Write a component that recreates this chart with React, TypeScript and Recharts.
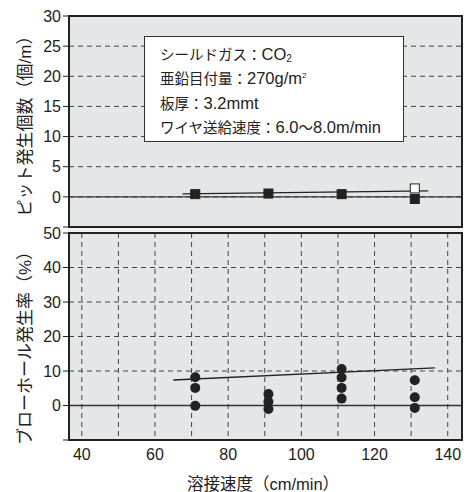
import { ComposedChart, Scatter, Line, XAxis, YAxis, CartesianGrid, ReferenceLine } from 'recharts'

// welding speed (cm/min)
const speedTicks = [40, 50, 60, 70, 80, 90, 100, 110, 120, 130, 140]
const speedLabels = [40, 60, 80, 100, 120, 140]
const pitTicks = [-5, 0, 5, 10, 15, 20, 25, 30]
const blowTicks = [-10, 0, 10, 20, 30, 40, 50]

// pits per metre
const pitFilled = [
  { x: 71, y: 0.45 },
  { x: 91, y: 0.55 },
  { x: 111, y: 0.45 },
  { x: 131, y: -0.35 },
]
const pitOpen = [{ x: 131, y: 1.4 }]
const pitTrend = [
  { x: 67.5, y: 0.5 },
  { x: 134.7, y: 1.0 },
]

// blowhole rate (%)
const blowholes = [
  { x: 71, y: 8.2 }, { x: 71, y: 5.1 }, { x: 71, y: -0.1 },
  { x: 91, y: 3.3 }, { x: 91, y: 1.1 }, { x: 91, y: -1.0 },
  { x: 111, y: 10.6 }, { x: 111, y: 8.1 }, { x: 111, y: 5.1 }, { x: 111, y: 2.0 },
  { x: 131, y: 7.3 }, { x: 131, y: 2.4 }, { x: 131, y: -0.7 },
]
const blowTrend = [
  { x: 65, y: 7.4 },
  { x: 136.5, y: 10.9 },
]

const conditions = ['シールドガス', '亜鉛目付量', '板厚', 'ワイヤ送給速度']

const INK = '#222'
const PLOT_BG = '#e5e6e8'
const xDomain: [number, number] = [36.5, 143.9]
const tickStyle = { fill: INK, fontSize: 16 }

const square = (fill: string) => (p: any) => (
  <rect x={p.cx - 4.5} y={p.cy - 4.5} width={9} height={9} fill={fill} stroke={INK} strokeWidth={1} />
)
const dot = (p: any) => <circle cx={p.cx} cy={p.cy} r={5} fill={INK} />

function Grid() {
  return <CartesianGrid fill={PLOT_BG} stroke="#444" strokeDasharray="5 4" />
}

const Lat = ({ children }: { children: any }) => <span style={{ fontSize: 16.5 }}>{children}</span>
const Small = ({ children, up }: { children: any; up: number }) => (
  <span style={{ fontSize: up > 0 ? 8 : 10, position: 'relative', top: -up, lineHeight: 0 }}>{children}</span>
)

function Row({ i, children }: { i: number; children: any }) {
  // rows are centred 24.5px apart
  return (
    <div style={{ position: 'absolute', left: 15, top: 4.5 + i * 24.5, height: 24.5, lineHeight: '24.5px', whiteSpace: 'nowrap' }}>
      {children}
    </div>
  )
}

export default function App() {
  return (
    <div
      style={{
        position: 'absolute', left: 0, top: 0, width: 475, height: 492,
        fontFamily: '"Liberation Sans", Arial, "Noto Sans CJK JP", sans-serif',
        color: INK, background: '#fff',
      }}
    >
      <div style={{ position: 'absolute', left: 0, top: 0 }}>
        <ComposedChart width={475} height={228} margin={{ top: 16, right: 13, left: 0, bottom: 0 }}>
          <Grid />
          <XAxis dataKey="x" type="number" domain={xDomain} ticks={speedTicks} allowDataOverflow
            height={1} tick={false} axisLine={false} tickLine={false} />
          <YAxis dataKey="y" type="number" domain={[-5, 30]} ticks={pitTicks} width={69}
            axisLine={false} tickSize={6} tickLine={{ stroke: INK }} tick={tickStyle}
            tickFormatter={(v) => (v < 0 ? '' : String(v))} interval={0} />
          <ReferenceLine y={0} stroke="#333" strokeWidth={1.3} />
          <Line data={pitTrend} dataKey="y" stroke={INK} strokeWidth={1.4} dot={false} isAnimationActive={false} />
          <Scatter data={pitFilled} shape={square(INK)} isAnimationActive={false} />
          <Scatter data={pitOpen} shape={square('#fff')} isAnimationActive={false} />
        </ComposedChart>
      </div>

      <div style={{ position: 'absolute', left: 0, top: 212 }}>
        <ComposedChart width={475} height={280} margin={{ top: 21, right: 13, left: 0, bottom: 0 }}>
          <Grid />
          <XAxis dataKey="x" type="number" domain={xDomain} ticks={speedTicks} allowDataOverflow
            height={52} axisLine={false} tickLine={false} tickSize={6} tickMargin={3} tick={tickStyle}
            tickFormatter={(v) => (speedLabels.includes(v) ? String(v) : '')} interval={0} />
          <YAxis dataKey="y" type="number" domain={[-10, 50]} ticks={blowTicks} width={69}
            axisLine={false} tickSize={6} tickLine={{ stroke: INK }} tick={tickStyle}
            tickFormatter={(v) => (v < 0 ? '' : String(v))} interval={0} />
          <ReferenceLine y={0} stroke="#333" strokeWidth={1.3} />
          <Line data={blowTrend} dataKey="y" stroke={INK} strokeWidth={1.4} dot={false} isAnimationActive={false} />
          <Scatter data={blowholes} shape={dot} isAnimationActive={false} />
        </ComposedChart>
      </div>

      {/* frame and panel separator */}
      <div style={{ position: 'absolute', left: 68, top: 15, width: 395, height: 426, border: `2px solid ${INK}`, boxSizing: 'border-box' }} />
      <div style={{ position: 'absolute', left: 68, top: 226.3, width: 395, height: 8, borderTop: `2px solid ${INK}`, borderBottom: `2px solid ${INK}`, background: '#f2f2f2', boxSizing: 'border-box' }} />

      {/* condition box */}
      <div
        style={{
          position: 'absolute', left: 144, top: 36, width: 260, height: 106,
          background: '#fff', border: '1px solid #333', boxSizing: 'border-box', fontSize: 14.5,
        }}
      >
        <Row i={0}>{conditions[0]}：<Lat>CO<Small up={-2}>2</Small></Lat></Row>
        <Row i={1}>{conditions[1]}：<Lat>270g/m<Small up={6}>2</Small></Lat></Row>
        <Row i={2}>{conditions[2]}：<Lat>3.2mmt</Lat></Row>
        <Row i={3}>{conditions[3]}：<Lat>6.0</Lat>〜<Lat>8.0m/min</Lat></Row>
      </div>

      <svg width={475} height={492} style={{ position: 'absolute', left: 0, top: 0, pointerEvents: 'none' }}>
        <text x={25} y={122} transform="rotate(-90 25 122)" textAnchor="middle" dominantBaseline="central" fontSize={17} fill={INK}>
          ピット発生個数（個/m）
        </text>
        <text x={25} y={344} transform="rotate(-90 25 344)" textAnchor="middle" dominantBaseline="central" fontSize={17} fill={INK}>
          ブローホール発生率（%）
        </text>
        <text x={263} y={484} textAnchor="middle" dominantBaseline="central" fontSize={16.5} fill={INK}>
          溶接速度（cm/min）
        </text>
      </svg>
    </div>
  )
}
